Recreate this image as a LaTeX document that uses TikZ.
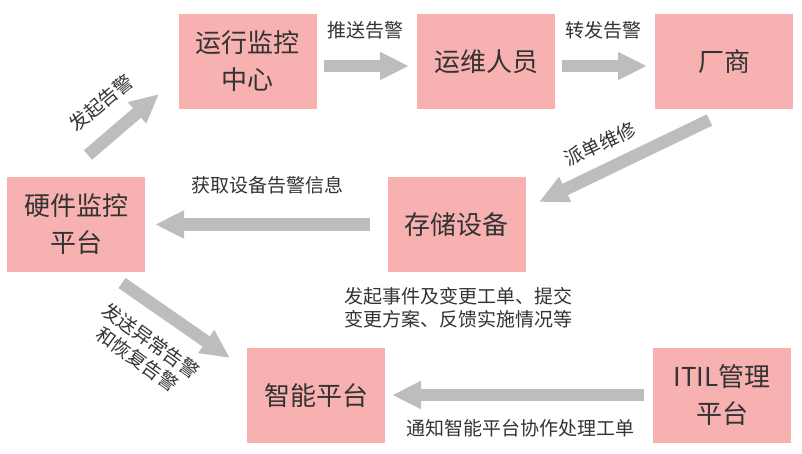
\documentclass[tikz,border=0pt]{standalone}
\usepackage{fontspec}
\setmainfont{Noto Sans CJK SC}
\usetikzlibrary{arrows.meta}
\definecolor{boxpink}{HTML}{F8B1B1}
\definecolor{arrgray}{HTML}{BDBDBD}
\definecolor{txt}{HTML}{333333}
\tikzset{
  box/.style={fill=boxpink, draw=none, minimum width=138pt, minimum height=95pt,
    inner sep=0pt, align=center, text=txt, font=\fontsize{26pt}{37pt}\selectfont},
  blockarrow/.style={draw=arrgray, line width=12.5pt,
    -{Triangle[length=29pt,width=26pt]}},
  lbl/.style={text=txt, align=center, inner sep=0pt, font=\fontsize{19pt}{23pt}\selectfont}
}
\begin{document}
\begin{tikzpicture}[x=1pt,y=-1pt]
\useasboundingbox (0,0) rectangle (802,453);
% boxes
\node[box] (opc) at (247.5,61.5) {运行监控\\中心};
\node[box] (ops) at (486,61.5) {运维人员};
\node[box] (ven) at (724,61.5) {厂商};
\node[box] (hw) at (76,224.5) {硬件监控\\平台};
\node[box] (sto) at (456.5,224.5) {存储设备};
\node[box] (sma) at (316,395.5) {智能平台};
\node[box] (itil) at (722,395.5) {ITIL管理\\平台};
% arrow end points
\coordinate (a1s) at (324,66);   \coordinate (a1e) at (409,66);
\coordinate (a2s) at (562,66);   \coordinate (a2e) at (647,66);
\coordinate (a3s) at (88,155);   \coordinate (a3e) at (159,94);
\coordinate (a4s) at (709.5,120);\coordinate (a4e) at (539,202);
\coordinate (a5s) at (370,224.5);\coordinate (a5e) at (155,224.5);
\coordinate (a6s) at (122,283);  \coordinate (a6e) at (230,358);
\coordinate (a7s) at (644,395);  \coordinate (a7e) at (392,395);
\draw[blockarrow] (a1s) -- (a1e);
\draw[blockarrow] (a2s) -- (a2e);
\draw[blockarrow] (a3s) -- (a3e);
\draw[blockarrow] (a4s) -- (a4e);
\draw[blockarrow] (a5s) -- (a5e);
\draw[blockarrow] (a6s) -- (a6e);
\draw[blockarrow] (a7s) -- (a7e);
% labels
\node[lbl] (l1) at (365,30) {推送告警};
\node[lbl] (l2) at (603,30) {转发告警};
\node[lbl, rotate=40] (l3) at (101,103) {发起告警};
\node[lbl, rotate=25] (l4) at (600,144) {派单维修};
\node[lbl] (l5) at (267,185) {获取设备告警信息};
\node[lbl] (l6) at (458,308) {发起事件及变更工单、提交\\变更方案、反馈实施情况等};
\node[lbl, rotate=-36] (l7) at (144,350) {发送异常告警\\和恢复告警};
\node[lbl] (l8) at (520,428) {通知智能平台协作处理工单};
\end{tikzpicture}
\end{document}
